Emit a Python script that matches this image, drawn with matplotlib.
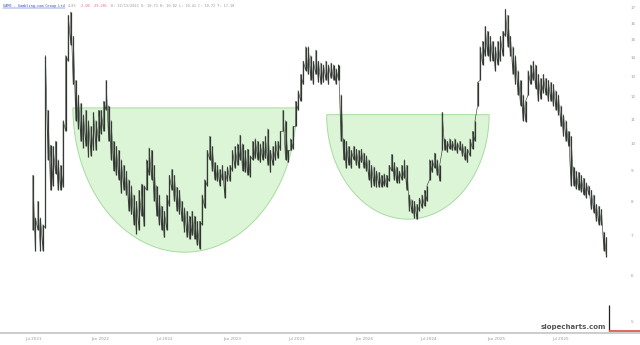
import numpy as np
import pandas as pd
import matplotlib
matplotlib.use('Agg')
import matplotlib.pyplot as plt
import matplotlib.dates as mdates
from matplotlib.ticker import NullLocator
from matplotlib.lines import Line2D

# header
ticker = "GAMB - Gambling.com Group Ltd"
last_price = 4.83
change = "-2.00"
change_pct = "-29.28%"
info = "D: 12/13/2022 O: 10.73 H: 10.82 L: 10.41 C: 10.72 T: 17.18"

# weekly high / low (first week 2021-07-23)
week_high = [8.85, 7.5, 8.0, 7.5, 7.3, 14.1, 11.4, 9.95, 9.9, 10.1,
             9.4, 9.2, 10.95, 14.1, 16.5, 16.7, 15.2, 12.8, 12.1, 11.7,
             11.2, 11.4, 10.95, 10.7, 11.3, 10.95, 11.4, 11.4, 11.8, 12.8,
             11.6, 10.95, 10.1, 9.9, 9.75, 9.4, 9.2, 9.0, 8.7, 8.5,
             8.2, 8.0, 8.35, 8.55, 8.5, 9.4, 9.85, 9.75, 9.2, 8.5,
             8.2, 7.85, 7.7, 8.2, 8.85, 9.05, 8.85, 8.45, 8.35, 8.0,
             7.8, 7.7, 7.55, 7.7, 7.55, 7.4, 7.4, 8.2, 8.7, 9.75,
             10.3, 9.9, 9.3, 9.2, 9.05, 9.2, 9.0, 9.15, 9.2, 9.75,
             9.9, 10.0, 10.35, 10.0, 9.75, 9.8, 9.55, 10.1, 10.2, 10.1,
             10.0, 10.1, 10.3, 10.6, 9.75, 9.9, 10.1, 10.1, 10.5, 11.4,
             10.95, 9.75, 10.2, 10.7, 11.8, 12.3, 13.1, 13.8, 14.6, 14.6,
             14.1, 13.8, 14.4, 13.8, 13.7, 13.6, 13.8, 13.6, 13.7, 13.6,
             13.4, 13.6, 12.1, 10.2, 10.1, 9.9, 9.75, 9.9, 9.8, 9.75,
             9.8, 9.65, 9.55, 9.4, 9.2, 9.15, 9.0, 8.95, 8.85, 8.9,
             8.85, 9.2, 9.6, 9.3, 9.15, 9.0, 9.2, 9.4, 9.2, 8.2,
             8.05, 8.0, 7.9, 8.1, 8.2, 8.35, 8.5, 9.4, 9.4, 9.65,
             9.4, 9.2, 11.3, 10.2, 10.1, 10.2, 10.1, 10.2, 10.05, 10.1,
             10.0, 9.9, 9.8, 10.2, 10.5, 10.95, 12.7, 14.6, 14.9, 15.8,
             15.5, 15.2, 14.9, 14.6, 14.9, 15.2, 15.5, 16.9, 16.5, 15.2,
             14.6, 14.1, 13.3, 12.8, 12.1, 11.8, 13.3, 13.6, 13.8, 13.6,
             13.1, 12.9, 13.1, 12.9, 12.8, 12.7, 12.6, 12.3, 12.1, 11.6,
             11.2, 10.95, 10.5, 10.3, 9.15, 9.0, 8.95, 8.85, 8.75, 8.6,
             8.5, 8.35, 8.2, 7.9, 7.85, 7.75, 7.1, 6.95, 5.35]
week_low = [7.15, 6.6, 7.15, 6.6, 6.6, 7.2, 9.4, 8.35, 8.5, 8.9,
            8.35, 8.35, 8.45, 10.5, 13.8, 14.7, 12.6, 10.95, 10.6, 10.1,
            9.85, 9.9, 9.5, 9.55, 9.75, 9.75, 10.1, 10.4, 10.5, 11.4,
            10.1, 9.4, 9.0, 8.85, 8.7, 8.25, 8.35, 8.2, 7.7, 7.6,
            7.3, 7.05, 7.15, 7.55, 7.25, 8.35, 8.85, 8.7, 8.0, 7.55,
            7.3, 7.15, 6.95, 7.15, 7.85, 8.35, 8.0, 7.7, 7.6, 7.4,
            7.1, 6.95, 6.9, 7.0, 6.9, 6.75, 6.65, 7.3, 7.8, 8.5,
            9.4, 9.0, 8.7, 8.65, 8.5, 8.7, 8.1, 8.65, 8.65, 9.0,
            9.1, 9.2, 9.4, 9.0, 8.95, 8.85, 8.8, 9.4, 9.45, 9.4,
            9.3, 9.4, 9.45, 9.2, 8.95, 9.2, 9.4, 9.45, 9.75, 10.5,
            9.4, 9.3, 9.75, 9.8, 10.7, 11.4, 11.8, 12.6, 13.3, 13.1,
            12.8, 12.6, 13.1, 12.7, 12.6, 12.7, 12.8, 12.6, 12.9, 12.8,
            12.6, 12.8, 10.1, 9.4, 9.1, 9.2, 9.1, 9.4, 9.2, 9.1,
            9.3, 9.1, 9.0, 8.7, 8.45, 8.5, 8.45, 8.45, 8.45, 8.5,
            8.45, 8.65, 9.0, 8.7, 8.6, 8.6, 8.7, 8.75, 8.35, 7.7,
            7.65, 7.5, 7.45, 7.7, 7.8, 7.85, 8.0, 8.7, 8.95, 9.1,
            8.85, 8.65, 9.75, 9.75, 9.7, 9.8, 9.75, 9.75, 9.65, 9.75,
            9.55, 9.4, 9.3, 9.55, 9.8, 10.1, 11.6, 12.8, 13.6, 14.1,
            14.1, 13.8, 13.8, 13.3, 13.6, 13.8, 14.1, 15.2, 14.6, 14.1,
            13.1, 12.6, 12.1, 11.6, 10.95, 10.9, 12.1, 12.6, 12.8, 12.4,
            11.8, 11.9, 12.2, 12.1, 11.8, 11.8, 11.6, 11.4, 11.2, 10.7,
            10.3, 10.1, 9.9, 8.5, 8.5, 8.4, 8.35, 8.3, 8.2, 8.1,
            8.2, 7.75, 7.65, 7.4, 7.3, 7.3, 6.6, 6.45, 4.83]
weeks = pd.date_range('2021-07-23', periods=len(week_high), freq='7D')

price_ticks = [5, 6, 7, 8, 9, 10, 11, 12, 13, 14, 15, 16, 17]
date_ticks = pd.to_datetime(['2021-07-01', '2022-01-01', '2022-07-01', '2023-01-01',
                             '2023-07-01', '2024-01-01', '2024-07-01', '2025-01-01',
                             '2025-07-01'])
date_labels = ['Jul 2021', 'Jan 2022', 'Jul 2022', 'Jan 2023', 'Jul 2023',
               'Jan 2024', 'Jul 2024', 'Jan 2025', 'Jul 2025']

# cup drawings: start, end, rim price, bottom price
cups = [('2021-11-11', '2023-07-23', 11.5, 6.56),
        ('2023-10-15', '2025-01-07', 11.2, 7.46)]

fig = plt.figure(figsize=(6.4, 3.45), dpi=100)
ax = fig.add_axes([0, 12 / 345, 1, 333 / 345])
ax.set_yscale('log')

for start, end, rim, bottom in cups:
    x0 = mdates.date2num(pd.Timestamp(start))
    x1 = mdates.date2num(pd.Timestamp(end))
    t = np.linspace(0, np.pi, 200)
    xs = (x0 + x1) / 2 + (x1 - x0) / 2 * np.cos(t)
    ys = 10 ** (np.log10(rim) - (np.log10(rim) - np.log10(bottom)) * np.sin(t))
    ax.fill(xs, ys, facecolor='#dcf5d6', edgecolor='#a6dc9f', lw=0.7, zorder=1)

# price bars: high-low lines plus a thin zigzag through them
wx = mdates.date2num(weeks)
ax.vlines(wx[:-1], week_low[:-1], week_high[:-1], color='#2e332e', lw=0.9, zorder=3)
zig_x = np.repeat(wx[:-1], 2)
zig_y = np.column_stack([week_low[:-1], week_high[:-1]]).ravel()
ax.plot(zig_x, zig_y, color='#3a403a', lw=0.45, zorder=3)
ax.vlines(wx[-1], week_low[-1], week_high[-1], color='#222222', lw=0.9, zorder=3)

xmax = pd.Timestamp('2026-03-01')
ax.hlines(last_price, weeks[-1], xmax, color='#e05858', lw=1.3, zorder=4)

ax.set_xlim(pd.Timestamp('2021-04-23'), xmax)
ax.set_ylim(4.79, 17.5)

ax.set_yticks(price_ticks)
ax.set_yticklabels([str(p) for p in price_ticks])
ax.yaxis.set_minor_locator(NullLocator())
ax.tick_params(axis='y', left=False, right=False, labelleft=False, labelright=True,
               pad=-10, labelsize=3, labelcolor='#999999')

ax.set_xticks(date_ticks)
ax.set_xticklabels(date_labels, ha='left')
ax.tick_params(axis='x', length=0, pad=3, labelsize=3, labelcolor='#999999')

for s in ['top', 'left', 'right']:
    ax.spines[s].set_visible(False)
ax.spines['bottom'].set_color('#c8c8c8')
ax.spines['bottom'].set_linewidth(1.3)

# header line, pieces laid out one after another
fig.canvas.draw()
renderer = fig.canvas.get_renderer()
x = 3 / 640
y = 1 - 6 / 345
parts = [(ticker, '#3b55c8'), (f"{last_price:.2f}", '#999999'), (change, '#e07070'),
         (change_pct, '#e07070'), (info, '#999999')]
for i, (txt, col) in enumerate(parts):
    t = fig.text(x, y, txt, fontsize=2.6, color=col, va='center', family='DejaVu Sans Mono')
    bb = t.get_window_extent(renderer).transformed(fig.transFigure.inverted())
    if i == 0:
        fig.add_artist(Line2D([bb.x0, bb.x1], [bb.y0, bb.y0], color=col, lw=0.35))
    x = bb.x1 + 3 / 640

fig.text(606 / 640, 1 - 327 / 345, 'slopecharts.com', ha='right', va='center',
         fontsize=5, fontweight='bold', color='#555555')

fig.savefig('out.png', dpi=100)
